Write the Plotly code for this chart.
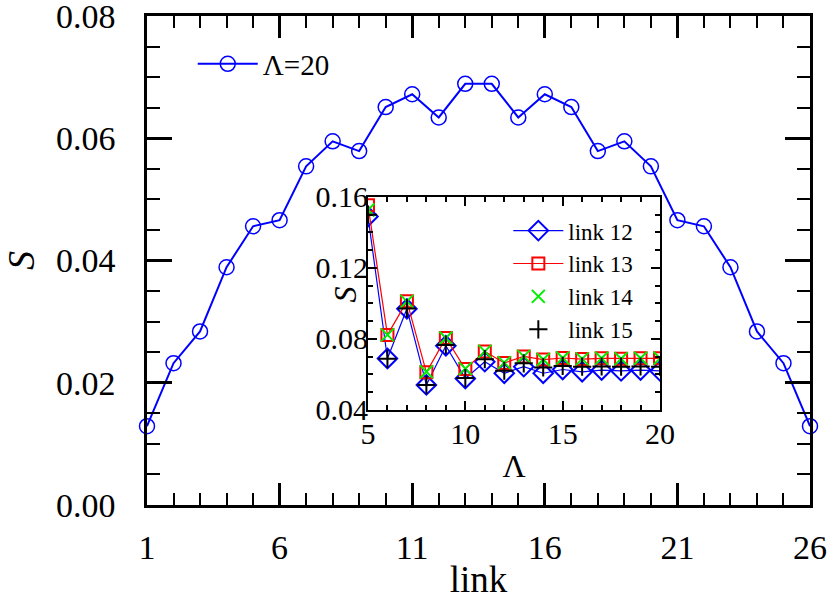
import plotly.graph_objects as go

# main panel: S per link at Lambda = 20
links = list(range(1, 27))
s_lambda20 = [0.0129, 0.0232, 0.0284, 0.0389, 0.0456, 0.0466, 0.0554, 0.0595, 0.0579,
              0.0651, 0.0672, 0.0634, 0.0689, 0.0689, 0.0634, 0.0672, 0.0651, 0.0579,
              0.0595, 0.0554, 0.0466, 0.0456, 0.0389, 0.0284, 0.0232, 0.0129]

# inset: S versus Lambda for links 12-15
lam = list(range(5, 21))
s_link12 = [0.1490, 0.0690, 0.0970, 0.0541, 0.0762, 0.0577, 0.0672, 0.0607,
            0.0644, 0.0607, 0.0628, 0.0615, 0.0625, 0.0620, 0.0625, 0.0620]
s_link13 = [0.1553, 0.0823, 0.1012, 0.0612, 0.0806, 0.0631, 0.0730, 0.0665,
            0.0702, 0.0684, 0.0693, 0.0687, 0.0691, 0.0689, 0.0691, 0.0691]
s_link14 = [0.1527, 0.0823, 0.1012, 0.0615, 0.0806, 0.0633, 0.0730, 0.0667,
            0.0702, 0.0684, 0.0693, 0.0688, 0.0691, 0.0689, 0.0691, 0.0691]
s_link15 = [0.1500, 0.0688, 0.0972, 0.0541, 0.0766, 0.0580, 0.0686, 0.0621,
            0.0663, 0.0640, 0.0648, 0.0644, 0.0645, 0.0644, 0.0645, 0.0644]

serif = "Liberation Serif"

fig = go.Figure()

fig.add_trace(go.Scatter(
    x=links, y=s_lambda20, name="\u039b=20", mode="lines+markers",
    line=dict(color="#0000ff", width=2),
    marker=dict(symbol="circle-open", size=15, color="#0000ff", line=dict(width=1.5)),
    xaxis="x", yaxis="y", legend="legend", cliponaxis=False,
))

fig.add_trace(go.Scatter(
    x=lam, y=s_link12, name="link 12", mode="lines+markers",
    line=dict(color="#0000ff", width=1.2),
    marker=dict(symbol="diamond-open", size=15, color="#0000ff", line=dict(width=2)),
    xaxis="x2", yaxis="y2", legend="legend2",
))
fig.add_trace(go.Scatter(
    x=lam, y=s_link13, name="link 13", mode="lines+markers",
    line=dict(color="#ff0000", width=1.2),
    marker=dict(symbol="square-open", size=12, color="#ff0000", line=dict(width=2)),
    xaxis="x2", yaxis="y2", legend="legend2",
))
fig.add_trace(go.Scatter(
    x=lam, y=s_link14, name="link 14", mode="markers",
    marker=dict(symbol="x-thin-open", size=13, color="#00ee00", line=dict(width=2, color="#00ee00")),
    xaxis="x2", yaxis="y2", legend="legend2",
))
fig.add_trace(go.Scatter(
    x=lam, y=s_link15, name="link 15", mode="markers",
    marker=dict(symbol="cross-thin-open", size=13, color="#000000", line=dict(width=2, color="#000000")),
    xaxis="x2", yaxis="y2", legend="legend2",
))

axis_common = dict(showline=True, linecolor="black", mirror="allticks", ticks="inside",
                   tickcolor="black", showgrid=False, zeroline=False, automargin=False,
                   ticklabeloverflow="allow")

fig.update_layout(
    width=831, height=600,
    margin=dict(l=147, r=21, t=16, b=95),
    paper_bgcolor="white", plot_bgcolor="white",
    font=dict(family=serif, color="black"),
    showlegend=True,
    xaxis=dict(**axis_common, range=[1, 26], tickvals=[1, 6, 11, 16, 21, 26],
               linewidth=2.5, tickwidth=2.5, ticklen=22,
               minor=dict(dtick=1, tick0=1, ticks="inside", ticklen=12, tickwidth=2, tickcolor="black"),
               tickfont=dict(size=34), ticklabelstandoff=10,
               title=dict(text="link", font=dict(size=37), standoff=10)),
    yaxis=dict(**axis_common, range=[0, 0.08], tickvals=[0, 0.02, 0.04, 0.06, 0.08],
               tickformat=".2f", linewidth=2.5, tickwidth=2.5, ticklen=25,
               minor=dict(dtick=0.005, ticks="inside", ticklen=13, tickwidth=2, tickcolor="black"),
               tickfont=dict(size=34), ticklabelstandoff=22,
               title=dict(text="<i>S</i>", font=dict(size=38), standoff=14)),
    xaxis2=dict(**axis_common, domain=[0.3333, 0.7738], anchor="y2", range=[5, 20],
                tickvals=[5, 10, 15, 20], linewidth=2, tickwidth=2, ticklen=9,
                minor=dict(dtick=1, ticks="inside", ticklen=5, tickwidth=1.5, tickcolor="black"),
                tickfont=dict(size=30), ticklabelstandoff=-4,
                title=dict(text="\u039b", font=dict(size=32), standoff=6)),
    yaxis2=dict(**axis_common, domain=[0.1943, 0.6299], anchor="x2", range=[0.04, 0.16],
                tickvals=[0.04, 0.08, 0.12, 0.16], tickformat=".2f",
                linewidth=2, tickwidth=2, ticklen=9,
                minor=dict(dtick=0.01, ticks="inside", ticklen=5, tickwidth=1.5, tickcolor="black"),
                tickfont=dict(size=30), ticklabelstandoff=-8),
    legend=dict(x=0.069, y=0.954, xanchor="left", yanchor="top", bgcolor="rgba(0,0,0,0)",
                font=dict(size=29), itemwidth=60, tracegroupgap=0),
    legend2=dict(x=0.545, y=0.605, xanchor="left", yanchor="top", bgcolor="rgba(0,0,0,0)",
                 font=dict(size=23), itemwidth=50, tracegroupgap=0),
)

# inset y title sits between its tick labels, as in the original figure
fig.add_annotation(text="<i>S</i>", xref="x2 domain", yref="y2 domain", x=-0.08, y=0.54,
                   xanchor="center", yanchor="middle", showarrow=False, textangle=-90,
                   font=dict(size=32, family=serif))

fig.write_html("out.html", config={"displayModeBar": False},
               post_script="document.body.style.margin='0';")
